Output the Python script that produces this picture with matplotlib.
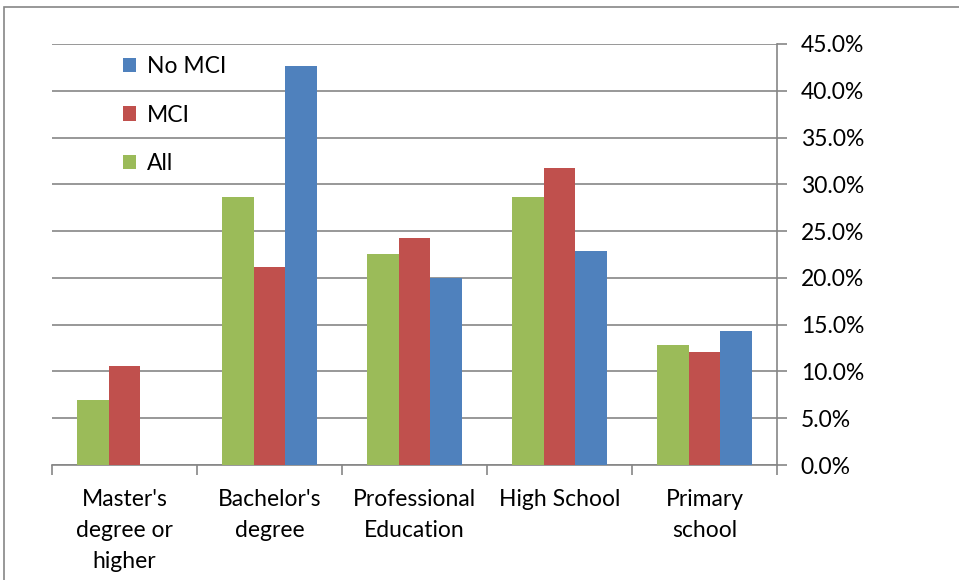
import matplotlib
matplotlib.use("Agg")
import matplotlib.pyplot as plt
import numpy as np
from matplotlib.patches import Rectangle

categories = ["Master's\ndegree or\nhigher", "Bachelor's\ndegree", "Professional\nEducation", "High School", "Primary\nschool"]
all_vals = [7.0, 28.6, 22.6, 28.6, 12.8]
mci_vals = [10.6, 21.2, 24.3, 31.7, 12.1]
nomci_vals = [0.0, 42.7, 20.0, 22.9, 14.3]
yticks = [0, 5, 10, 15, 20, 25, 30, 35, 40, 45]

plt.rcParams['font.family'] = ['Lato', 'DejaVu Sans']

W, H = 959, 580
fig = plt.figure(figsize=(W/100, H/100), dpi=100)
# outer border (only top and left visible inside the image)
fig.patches.append(Rectangle((4/W, -1), 2, 2 - 6.5/H, transform=fig.transFigure,
                             fill=False, edgecolor='#868686', linewidth=1.2))

left, right, top, bottom = 52, 777, 44, 465
ax = fig.add_axes([left/W, 1 - bottom/H, (right-left)/W, (bottom-top)/H])

x = np.arange(len(categories))
bw = 0.22
green, red, blue = '#9BBB59', '#C0504D', '#4F81BD'
ax.bar(x - bw, all_vals, bw, color=green, label='All', zorder=3)
ax.bar(x, mci_vals, bw, color=red, label='MCI', zorder=3)
ax.bar(x + bw, nomci_vals, bw, color=blue, label='No MCI', zorder=3)

fs = 16.5
ax.set_xlim(-0.5, len(categories) - 0.5)
ax.set_ylim(0, 45)
ax.yaxis.tick_right()
ax.set_yticks(yticks)
ax.set_yticklabels([f"{v:.1f}%" for v in yticks], fontsize=fs)
ax.tick_params(axis='y', length=7, width=1.2, color='#868686', pad=10, direction='out')
ax.grid(axis='y', color='#868686', linewidth=1.2, zorder=0)

ax.set_xticks(np.arange(-0.5, len(categories), 1.0))
ax.set_xticklabels([])
ax.set_xticks(x, minor=True)
ax.set_xticklabels(categories, minor=True, fontsize=fs, linespacing=1.6, va='top')
ax.tick_params(axis='x', which='major', length=7, width=1.2, color='#868686', direction='out')
ax.tick_params(axis='x', which='minor', length=0, pad=17)

for s in ['top', 'left']:
    ax.spines[s].set_visible(False)
ax.spines['bottom'].set_color('#868686')
ax.spines['bottom'].set_linewidth(1.2)
ax.spines['right'].set_color('#868686')
ax.spines['right'].set_linewidth(1.2)

h, l = ax.get_legend_handles_labels()
leg = ax.legend(h[::-1], l[::-1], loc='upper left', bbox_to_anchor=(0.069, 1.02),
                frameon=False, fontsize=fs, handlelength=0.6, handleheight=0.6,
                handletextpad=0.45, labelspacing=1.2)

fig.savefig('out.png', dpi=100)
